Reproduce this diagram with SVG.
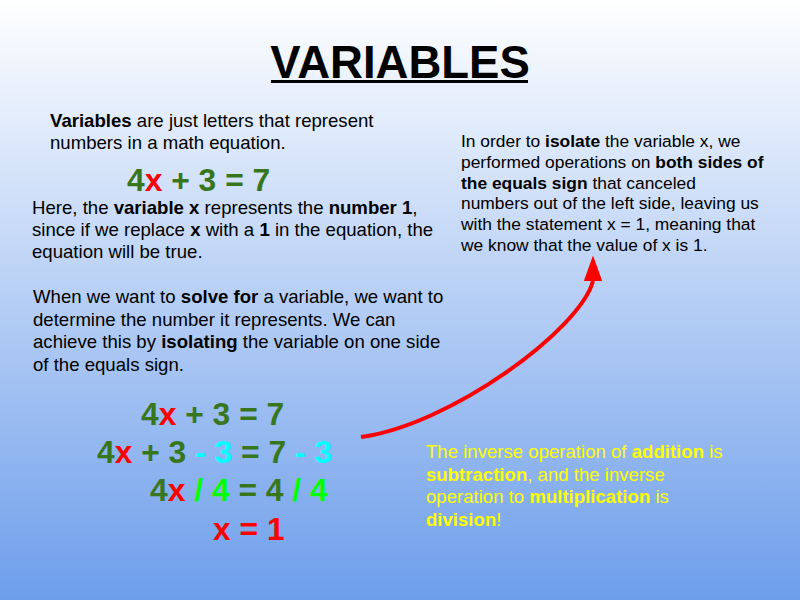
<svg xmlns="http://www.w3.org/2000/svg" width="800" height="600" viewBox="0 0 800 600">
<defs>
<linearGradient id="bg" x1="0" y1="0" x2="0" y2="1">
<stop offset="0" stop-color="#ffffff"/>
<stop offset="1" stop-color="#6d9eeb"/>
</linearGradient>
<marker id="ah" markerWidth="6.5" markerHeight="4.6" refX="0" refY="2.3" orient="-90" markerUnits="strokeWidth">
<path d="M0,0 L6.4,2.3 L0,4.6 Z" fill="#ff0000"/>
</marker>
<style>
text{font-family:"Liberation Sans",Arial,sans-serif;}
.body{font-size:18.6px;fill:#000;}
.rt{font-size:17.4px;fill:#000;}
.yl{font-size:18.6px;fill:#ffff00;}
.eq{font-size:31.8px;font-weight:bold;fill:#38761d;}
.b{font-weight:bold;}
.r{fill:#ff0000;}
.c{fill:#00ffff;}
.g{fill:#00ff00;}
</style>
</defs>
<rect width="800" height="600" fill="url(#bg)"/>
<g id="title">
<text x="400" y="78" text-anchor="middle" font-size="45.5" font-weight="bold" fill="#000">VARIABLES</text>
<rect x="271" y="80" width="257" height="3" fill="#000"/>
</g>
<g id="intro">
<text class="body" x="50" y="127"><tspan class="b">Variables</tspan> are just letters that represent</text>
<text class="body" x="50" y="149">numbers in a math equation.</text>
</g>
<g id="eq1">
<text class="eq" x="127" y="191">4<tspan class="r">x</tspan> + 3 = 7</text>
</g>
<g id="explain">
<text class="body" x="32" y="214">Here, the <tspan class="b">variable x</tspan> represents the <tspan class="b">number 1</tspan>,</text>
<text class="body" x="32" y="236">since if we replace <tspan class="b">x</tspan> with a <tspan class="b">1</tspan> in the equation, the</text>
<text class="body" x="32" y="258">equation will be true.</text>
</g>
<g id="solve">
<text class="body" x="33" y="303">When we want to <tspan class="b">solve for</tspan> a variable, we want to</text>
<text class="body" x="33" y="326">determine the number it represents. We can</text>
<text class="body" x="33" y="348">achieve this by <tspan class="b">isolating</tspan> the variable on one side</text>
<text class="body" x="33" y="371">of the equals sign.</text>
</g>
<g id="isolate">
<text class="rt" x="461" y="147">In order to <tspan class="b">isolate</tspan> the variable x, we</text>
<text class="rt" x="461" y="168">performed operations on <tspan class="b">both sides of</tspan></text>
<text class="rt" x="461" y="189"><tspan class="b">the equals sign</tspan> that canceled</text>
<text class="rt" x="461" y="209">numbers out of the left side, leaving us</text>
<text class="rt" x="461" y="230">with the statement x = 1, meaning that</text>
<text class="rt" x="461" y="251">we know that the value of x is 1.</text>
</g>
<g id="steps">
<text class="eq" x="141" y="425">4<tspan class="r">x</tspan> + 3 = 7</text>
<text class="eq" x="97" y="463">4<tspan class="r">x</tspan> + 3 <tspan class="c">- 3</tspan> = 7 <tspan class="c">- 3</tspan></text>
<text class="eq" x="150" y="501">4<tspan class="r">x</tspan> <tspan class="g">/ 4</tspan> = 4 <tspan class="g">/ 4</tspan></text>
<text class="eq" x="213" y="540"><tspan class="r">x = 1</tspan></text>
</g>
<g id="inverse">
<text class="yl" x="426" y="458">The inverse operation of <tspan class="b">addition</tspan> is</text>
<text class="yl" x="426" y="481"><tspan class="b">subtraction</tspan>, and the inverse</text>
<text class="yl" x="426" y="503">operation to <tspan class="b">multiplication</tspan> is</text>
<text class="yl" x="426" y="526"><tspan class="b">division</tspan>!</text>
</g>
<g id="connectors">
<path d="M361,437 C450,425 580,330 593,281" fill="none" stroke="#ff0000" stroke-width="4" marker-end="url(#ah)"/>
</g>
</svg>
